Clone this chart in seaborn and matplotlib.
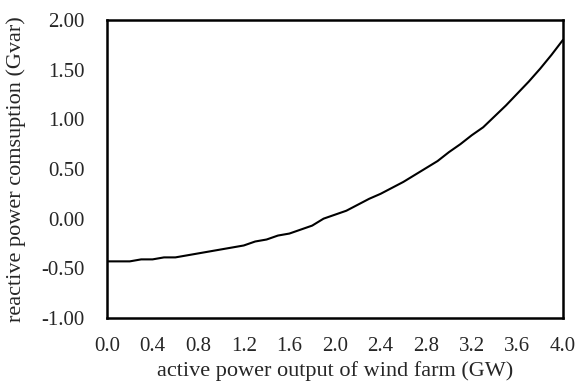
import matplotlib
matplotlib.use('Agg')
import matplotlib.pyplot as plt
import seaborn as sns
import numpy as np
import pandas as pd

# active power output (GW) and reactive power consumption (Gvar)
active_power = [0.0, 0.1, 0.2, 0.3, 0.4, 0.5, 0.6, 0.7, 0.8, 0.9,
                1.0, 1.1, 1.2, 1.3, 1.4, 1.5, 1.6, 1.7, 1.8, 1.9,
                2.0, 2.1, 2.2, 2.3, 2.4, 2.5, 2.6, 2.7, 2.8, 2.9,
                3.0, 3.1, 3.2, 3.3, 3.4, 3.5, 3.6, 3.7, 3.8, 3.9, 4.0]
reactive_power = [-0.43, -0.43, -0.43, -0.41, -0.41, -0.39, -0.39, -0.37, -0.35, -0.33,
                  -0.31, -0.29, -0.27, -0.23, -0.21, -0.17, -0.15, -0.11, -0.07, 0.00,
                  0.04, 0.08, 0.14, 0.20, 0.25, 0.31, 0.37, 0.44, 0.51, 0.58,
                  0.67, 0.75, 0.84, 0.92, 1.03, 1.14, 1.26, 1.38, 1.51, 1.65, 1.80]

xticks = [0.0, 0.4, 0.8, 1.2, 1.6, 2.0, 2.4, 2.8, 3.2, 3.6, 4.0]
yticks = [-1.0, -0.5, 0.0, 0.5, 1.0, 1.5, 2.0]

df = pd.DataFrame({'x': active_power, 'y': reactive_power})

sns.set_style('white')
plt.rcParams['font.family'] = ['Liberation Serif', 'DejaVu Serif']

fig = plt.figure(figsize = (5.77, 3.81), dpi = 100)
ax = fig.add_axes([0.1854, 0.1654, 0.7903, 0.7821])

sns.lineplot(data = df, x = 'x', y = 'y', color = 'black', linewidth = 1.5, ax = ax)

ax.set_xlim(0, 4.0)
ax.set_ylim(-1.0, 2.0)
ax.set_xticks(xticks)
ax.set_xticklabels(['%.1f' % t for t in xticks], fontsize = 15)
ax.set_yticks(yticks)
ax.set_yticklabels(['%.2f' % t for t in yticks], fontsize = 15)
ax.tick_params(axis = 'x', direction = 'in', length = 6, width = 1.5, color = 'black', pad = 14)
ax.tick_params(axis = 'y', direction = 'in', length = 5, width = 1.5, color = 'black', pad = 16)

for s in ax.spines.values():
    s.set_color('black')
    s.set_linewidth(1.8)

ax.set_xlabel('active power output of wind farm (GW)', fontsize = 16)
ax.set_ylabel('reactive power comsuption (Gvar)', fontsize = 16)
ax.xaxis.set_label_coords(0.5, -0.145)
ax.yaxis.set_label_coords(-0.178, 0.5)

fig.savefig('out.png', dpi = 100)
